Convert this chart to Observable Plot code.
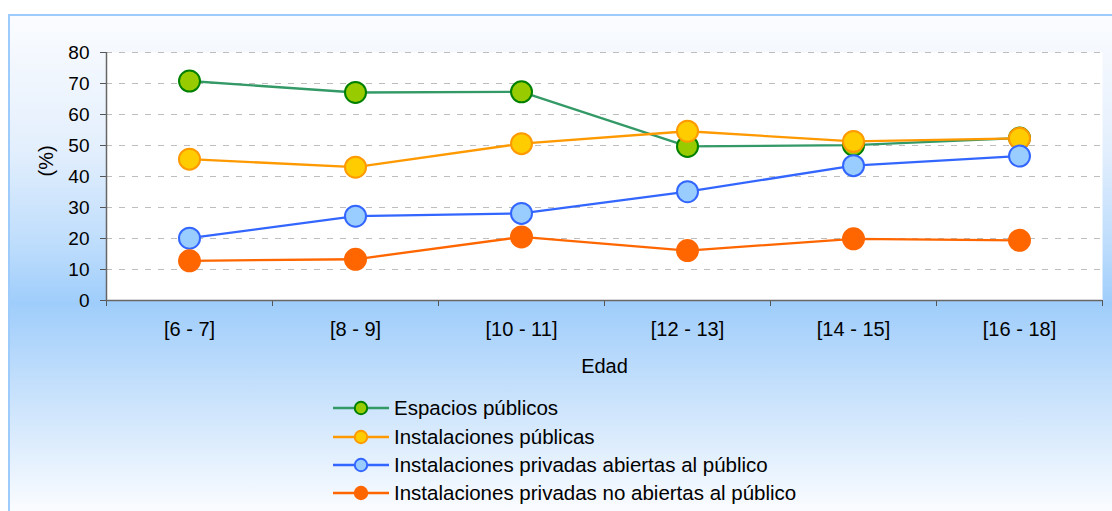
<!DOCTYPE html>
<html><head><meta charset="utf-8">
<script src="https://cdn.jsdelivr.net/npm/d3@7"></script>
<script src="https://cdn.jsdelivr.net/npm/@observablehq/plot@0.6"></script>
<style>
html,body{margin:0;padding:0;background:#fff;width:1112px;height:511px;overflow:hidden;}
#bg{position:absolute;left:8px;top:14px;width:1104px;height:497px;box-sizing:border-box;
  border-left:2px solid #9dcbfb;border-top:2px solid #9dcbfb;
  background:linear-gradient(to bottom,#fafcff 0%,#f4f8fe 8%,#e3effd 27%,#bcdcfc 47%,#9fcdfb 58%,#c9e2fc 77%,#fafcff 100%);}
#chart{position:absolute;left:0;top:0;}
#legend{position:absolute;left:0;top:0;font-family:"Liberation Sans",Arial,sans-serif;font-size:20.5px;color:#000;}
.row{position:absolute;height:28px;display:flex;align-items:center;white-space:nowrap;}
.row svg{display:block;margin-right:5px;}
</style>
</head><body>
<div id="bg"></div>
<div id="chart"></div>
<div id="legend"></div>
<script>
// ---- data ----
const categories = ["[6 - 7]", "[8 - 9]", "[10 - 11]", "[12 - 13]", "[14 - 15]", "[16 - 18]"];
const seriesNames = [
  "Espacios públicos",
  "Instalaciones públicas",
  "Instalaciones privadas abiertas al público",
  "Instalaciones privadas no abiertas al público"
];
const espaciosPublicos      = [70.8, 67.1, 67.3, 49.7, 50.1, 52.4];
const instalacionesPublicas = [45.6, 43.0, 50.6, 54.6, 51.3, 52.3];
const privadasAbiertas      = [20.1, 27.2, 28.1, 35.1, 43.5, 46.6];
const privadasNoAbiertas    = [12.8, 13.3, 20.5, 16.1, 19.9, 19.4];
const yTicks = [0, 10, 20, 30, 40, 50, 60, 70, 80];
const xLabel = "Edad";
const yLabel = "(%)";

// ---- styles ----
const lineColors   = ["#339966", "#ff9900", "#3366ff", "#ff6600"];
const fillColors   = ["#99cc00", "#ffcc00", "#99ccff", "#ff6600"];
const strokeColors = ["#008000", "#ff9900", "#3366ff", "#ff6600"];
const font = "Liberation Sans, Arial, sans-serif";

const seriesValues = [espaciosPublicos, instalacionesPublicas, privadasAbiertas, privadasNoAbiertas];
const rows = seriesValues.map((vals, s) =>
  vals.map((v, i) => ({series: seriesNames[s], i, category: categories[i], value: v})));

const idx = categories.map((_, i) => i);
const boundaries = [-0.5, ...idx.map(i => i + 0.5)];

const lines = rows.map((r, s) => Plot.lineY(r, {x: "i", y: "value", stroke: lineColors[s], strokeWidth: 2.3}));
const dots = rows.map((r, s) => Plot.dot(r, {x: "i", y: "value", r: 10.5, fill: fillColors[s], stroke: strokeColors[s], strokeWidth: 2}));

const chart = Plot.plot({
  width: 1112, height: 390,
  marginLeft: 106, marginRight: 10, marginTop: 52, marginBottom: 90,
  style: {background: "transparent", fontFamily: font, fontSize: "19px", color: "#000", overflow: "visible"},
  x: {type: "linear", domain: [-0.5, categories.length - 0.5]},
  y: {domain: [0, 80]},
  marks: [
    Plot.frame({fill: "white", stroke: "none"}),
    Plot.gridY({ticks: yTicks.filter(d => d > 0), stroke: "#bdbdbd", strokeOpacity: 1, strokeDasharray: "6,7", strokeWidth: 1}),
    Plot.axisY({ticks: yTicks, tickSize: 6, tickPadding: 11, stroke: "#555", fontSize: 19, label: null}),
    Plot.axisX({ticks: boundaries, tickSize: 6, tickFormat: () => "", stroke: "#555", label: null}),
    Plot.axisX({ticks: idx, tickSize: 0, tickPadding: 21, tickFormat: i => categories[i], fontSize: 20, label: null}),
    Plot.ruleX([-0.5], {stroke: "#666", strokeWidth: 1.5}),
    Plot.ruleY([0], {stroke: "#666", strokeWidth: 1.5}),
    ...lines,
    ...dots,
    Plot.text([yLabel], {text: d => d, frameAnchor: "left", dx: -60, rotate: -90, fontSize: 20, fill: "#000"}),
    Plot.text([xLabel], {text: d => d, frameAnchor: "bottom", dy: 72, fontSize: 20, fill: "#000"})
  ]
});
document.getElementById("chart").appendChild(chart);

// ---- legend ----
const legend = document.getElementById("legend");
const legendCenters = [408, 437, 465, 493];
seriesNames.forEach((name, s) => {
  const row = document.createElement("div");
  row.className = "row";
  row.style.left = "333px";
  row.style.top = (legendCenters[s] - 14) + "px";
  const svg = d3.create("svg").attr("width", 56).attr("height", 28);
  svg.append("line").attr("x1", 0).attr("x2", 56).attr("y1", 14).attr("y2", 14)
    .attr("stroke", lineColors[s]).attr("stroke-width", 2.3);
  svg.append("circle").attr("cx", 28).attr("cy", 14).attr("r", 6.2)
    .attr("fill", fillColors[s]).attr("stroke", strokeColors[s]).attr("stroke-width", 2);
  row.appendChild(svg.node());
  const span = document.createElement("span");
  span.textContent = name;
  row.appendChild(span);
  legend.appendChild(row);
});
</script>
</body></html>
